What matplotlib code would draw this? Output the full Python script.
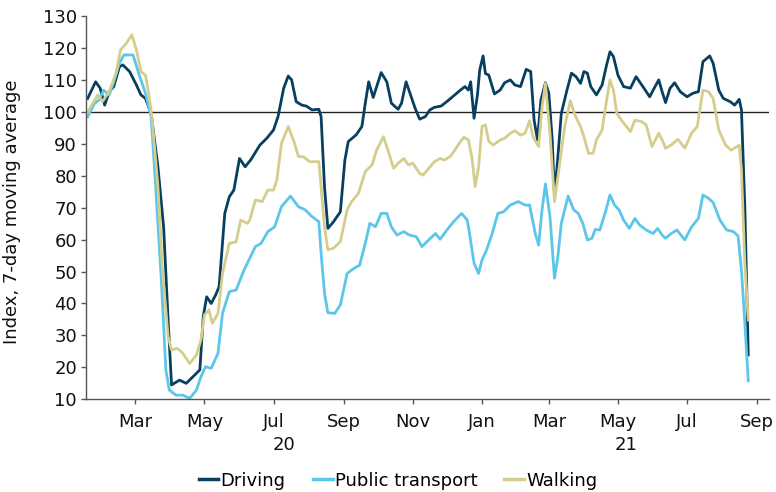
import numpy as np
import matplotlib
matplotlib.use("Agg")
import matplotlib.pyplot as plt
import matplotlib.dates as mdates
import matplotlib.transforms as mtransforms

# x values: days since 1 March 2020 (7-day moving average readings)
base_date = np.datetime64("2020-03-01")

driving_days = [-42, -35, -31, -27, -23, -19, -14, -11, -5, 1, 5, 9, 14, 20, 25, 29, 32,
                39, 45, 51, 57, 60, 63, 67, 71, 74, 79, 83, 87, 92, 97, 102, 110, 116,
                122, 126, 131, 135, 138, 142, 147, 151, 156, 162, 164, 167, 170, 175,
                181, 185, 188, 195, 200, 203, 206, 210, 214, 217, 222, 226, 232, 235,
                239, 242, 247, 251, 256, 260, 264, 270, 276, 282, 287, 291, 294, 296,
                299, 302, 304, 307, 309, 312, 317, 322, 326, 331, 335, 340, 345, 349,
                352, 355, 358, 362, 365, 368, 370, 373, 376, 381, 385, 389, 393, 396,
                399, 402, 407, 412, 416, 419, 422, 426, 431, 437, 442, 448, 454, 458,
                462, 465, 468, 472, 476, 481, 487, 492, 497, 501, 507, 510, 515, 519,
                525, 529, 533, 535, 538, 541]
driving = [104.2, 109.4, 107.4, 102.1, 106.3, 107.9, 114.1, 114.7, 112.6, 108.4, 105.3,
           104.2, 99.5, 82.8, 64.0, 34.8, 14.5, 16.0, 15.0, 17.1, 19.2, 35.9, 42.1, 40.0,
           42.7, 45.3, 68.2, 73.4, 75.5, 85.4, 82.8, 85.0, 89.6, 91.7, 94.3, 98.5, 107.4,
           111.2, 110.0, 103.2, 102.1, 101.8, 100.6, 100.8, 98.5, 76.6, 63.5, 65.6, 68.7,
           84.9, 90.7, 92.8, 95.4, 102.7, 109.4, 104.5, 108.9, 112.3, 109.4, 102.7, 100.8,
           102.7, 109.4, 106.3, 101.1, 97.7, 98.5, 100.6, 101.4, 101.8, 103.5, 105.3,
           106.8, 107.9, 106.8, 109.4, 98.0, 105.3, 113.1, 117.5, 112.0, 111.5, 105.6,
           106.8, 109.1, 110.0, 108.4, 107.9, 113.3, 112.6, 97.4, 91.2, 103.7, 109.1,
           105.8, 91.2, 73.5, 86.0, 99.5, 106.8, 112.1, 111.0, 108.9, 112.6, 112.1, 107.9,
           105.3, 108.4, 114.7, 118.8, 117.3, 111.5, 107.9, 107.4, 111.0, 107.9, 104.7,
           107.4, 110.0, 106.3, 102.9, 107.4, 109.1, 106.3, 104.7, 105.8, 106.3, 115.7,
           117.5, 115.2, 106.8, 104.2, 103.2, 102.1, 103.9, 100.6, 70.0, 23.9]

public_days = [-42, -36, -32, -28, -23, -19, -14, -10, -2, 4, 9, 14, 18, 23, 27, 30, 36,
               42, 48, 54, 58, 62, 67, 73, 77, 83, 89, 96, 101, 106, 111, 117, 123, 129,
               137, 144, 150, 156, 162, 164, 167, 170, 176, 181, 187, 193, 198, 203, 207,
               212, 217, 222, 226, 231, 237, 242, 248, 253, 259, 265, 269, 275, 281, 288,
               293, 295, 299, 303, 306, 310, 315, 320, 325, 331, 338, 344, 348, 353, 356,
               359, 362, 366, 370, 373, 376, 382, 387, 391, 395, 399, 403, 406, 410, 415,
               419, 423, 427, 431, 436, 441, 445, 451, 457, 461, 465, 468, 473, 478, 485,
               491, 497, 501, 506, 510, 516, 522, 528, 532, 535, 538, 541]
public = [98.5, 102.6, 103.7, 106.8, 105.3, 109.4, 115.2, 117.8, 117.8, 111.0, 105.8,
          98.5, 76.6, 47.4, 19.2, 12.9, 11.3, 11.3, 10.3, 12.9, 17.1, 20.2, 19.7, 24.4,
          36.9, 43.7, 44.2, 50.5, 54.1, 57.8, 58.8, 62.5, 64.0, 70.3, 73.6, 70.3, 69.3,
          67.2, 65.6, 55.7, 43.2, 37.1, 36.9, 39.5, 49.4, 51.0, 52.0, 58.8, 65.1, 64.0,
          68.2, 68.2, 64.0, 61.4, 62.5, 61.4, 60.9, 57.8, 59.9, 61.9, 60.1, 63.0, 65.6,
          68.2, 66.1, 61.9, 52.6, 49.4, 53.6, 56.7, 61.9, 68.2, 68.7, 70.8, 71.9, 70.8,
          70.8, 61.9, 58.3, 69.3, 77.4, 67.2, 47.9, 54.7, 65.1, 73.6, 69.3, 68.2, 65.1,
          59.9, 60.4, 63.2, 63.0, 68.7, 74.0, 70.8, 69.3, 66.1, 63.5, 66.6, 64.6, 63.0,
          61.9, 63.5, 61.4, 60.4, 61.9, 63.0, 59.9, 64.0, 66.6, 74.0, 72.9, 71.6, 66.1,
          63.0, 62.5, 61.1, 50.5, 33.8, 15.8]

walking_days = [-42, -33, -29, -23, -17, -13, -8, -3, 1, 5, 9, 12, 15, 20, 24, 29, 32,
                37, 42, 48, 54, 58, 61, 65, 68, 73, 77, 83, 89, 93, 99, 101, 106, 112,
                117, 122, 125, 129, 135, 140, 144, 148, 154, 162, 164, 167, 170, 175,
                181, 187, 191, 197, 203, 209, 213, 219, 223, 228, 232, 237, 241, 245,
                251, 254, 259, 264, 269, 273, 278, 282, 287, 290, 294, 297, 300, 303,
                306, 309, 312, 316, 322, 326, 331, 335, 340, 344, 348, 351, 356, 359,
                362, 366, 370, 375, 379, 384, 388, 393, 396, 400, 404, 407, 412, 416,
                419, 422, 425, 429, 437, 441, 447, 451, 456, 462, 465, 468, 473, 479,
                485, 491, 496, 501, 506, 510, 515, 521, 526, 533, 535, 538, 541]
walking = [100.0, 105.3, 103.2, 106.3, 112.1, 119.4, 121.4, 124.1, 119.4, 112.6, 111.5,
           105.3, 97.4, 76.6, 50.5, 29.6, 25.4, 26.0, 24.4, 21.2, 23.9, 28.6, 36.4, 38.0,
           33.8, 36.9, 49.4, 58.8, 59.3, 66.1, 65.1, 66.1, 72.4, 71.9, 75.5, 75.5, 78.7,
           90.1, 95.4, 90.7, 86.0, 86.0, 84.4, 84.4, 76.6, 64.0, 56.8, 57.3, 59.4, 69.3,
           71.9, 74.5, 81.3, 83.4, 88.0, 92.2, 88.0, 82.3, 83.9, 85.4, 83.4, 83.9, 80.7,
           80.2, 82.3, 84.4, 85.4, 84.9, 86.0, 88.0, 90.7, 92.0, 91.2, 86.0, 76.6, 82.8,
           95.4, 95.9, 90.7, 89.6, 91.2, 91.7, 93.3, 94.1, 92.7, 93.3, 97.2, 92.2, 89.1,
           101.6, 108.9, 93.3, 71.9, 84.9, 95.4, 103.5, 99.0, 95.4, 92.2, 87.0, 87.0, 91.2,
           94.3, 103.7, 110.0, 106.8, 99.5, 97.4, 93.8, 97.4, 96.9, 95.9, 89.1, 93.3, 91.2,
           88.6, 89.6, 91.4, 88.6, 93.3, 95.4, 106.8, 106.3, 104.2, 94.3, 89.6, 88.0, 89.6,
           81.8, 52.6, 34.8]

series = [("Driving", driving_days, driving, "#073f60"),
          ("Public transport", public_days, public, "#5cc6ea"),
          ("Walking", walking_days, walking, "#d5cd8b")]

plt.rcParams["font.family"] = "DejaVu Sans"
fig = plt.figure(figsize=(7.76, 4.92), dpi=100)
ax = fig.add_axes([0.1108, 0.1884, 0.8806, 0.7791])

def to_dates(days):
    return base_date + np.array(days).astype("timedelta64[D]")

for name, days, vals, col in series:
    ax.plot(to_dates(days), vals, color=col, lw=2.0, label=name, solid_joinstyle="round")

ax.axhline(100, color="#222222", lw=1.0, zorder=1)

b = mdates.date2num(base_date)
ax.set_xlim(b - 43.5, b + 559.6)
ax.set_ylim(10, 130)
ax.set_yticks(np.arange(10, 131, 10))

ax.xaxis.set_major_locator(mdates.MonthLocator(bymonth=[1, 3, 5, 7, 9, 11]))
ax.xaxis.set_major_formatter(mdates.DateFormatter("%b"))

for s in ["top", "right"]:
    ax.spines[s].set_visible(False)
for s in ["left", "bottom"]:
    ax.spines[s].set_color("#555555")
    ax.spines[s].set_linewidth(1.0)
ax.tick_params(axis="both", colors="#555555", labelcolor="#111111", labelsize=13,
               length=3.5, width=1)
ax.tick_params(axis="y", pad=3)
ax.tick_params(axis="x", pad=6)

ax.set_ylabel("Index, 7-day moving average", fontsize=13, color="#111111")
ax.yaxis.set_label_coords(-0.095, 0.49)

trans = mtransforms.blended_transform_factory(ax.transData, ax.transAxes)
ax.text(mdates.date2num(np.datetime64("2020-07-10")), -0.119, "20", transform=trans,
        ha="center", va="center", fontsize=13, color="#111111")
ax.text(mdates.date2num(np.datetime64("2021-05-08")), -0.119, "21", transform=trans,
        ha="center", va="center", fontsize=13, color="#111111")

leg = fig.legend(loc="center", bbox_to_anchor=(0.513, 0.023), ncol=3, frameon=False,
                 fontsize=13, handlelength=1.1, handletextpad=0.12, columnspacing=1.5)
for line in leg.get_lines():
    line.set_linewidth(2.5)

fig.savefig("out.png", dpi=100)
